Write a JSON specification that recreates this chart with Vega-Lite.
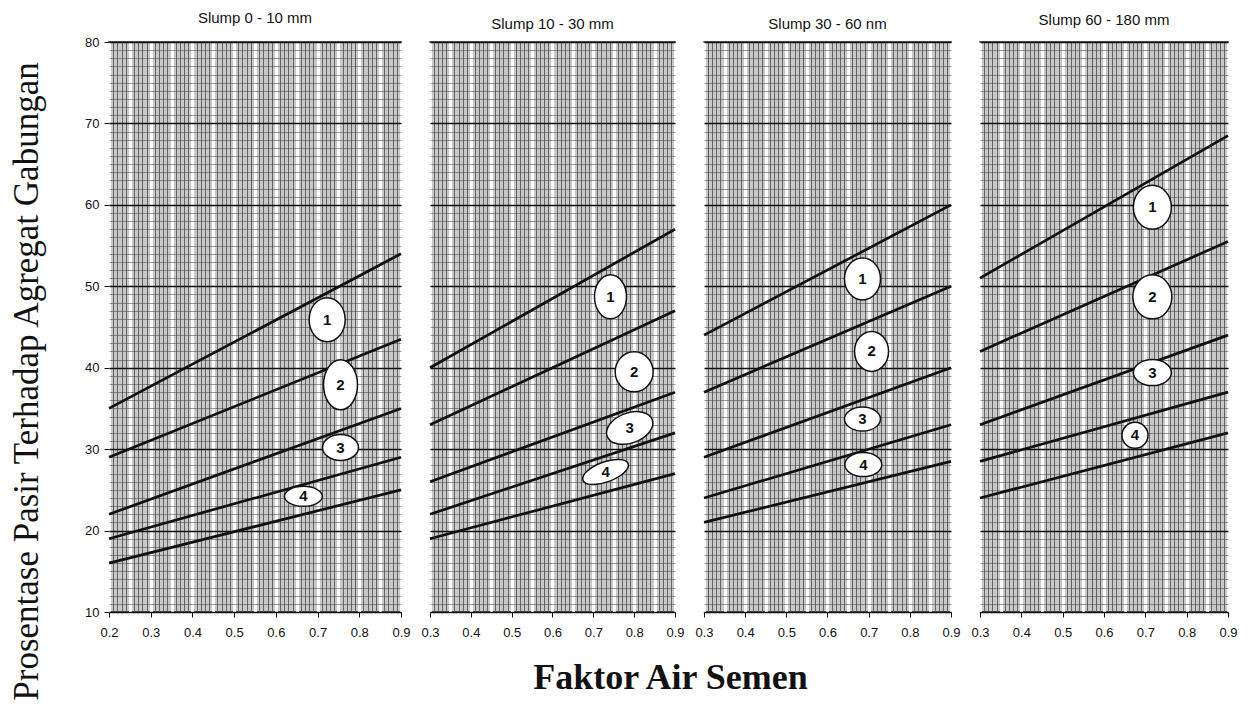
{
  "$schema": "https://vega.github.io/schema/vega-lite/v6.json",
  "background": "white",
  "padding": {"left": 8, "top": 10, "right": 5, "bottom": 2},
  "datasets": {
    "lines": [
      {"panel": 1, "curve": 1, "x": 0.2, "y": 35}, {"panel": 1, "curve": 1, "x": 0.9, "y": 54},
      {"panel": 1, "curve": 2, "x": 0.2, "y": 29}, {"panel": 1, "curve": 2, "x": 0.9, "y": 43.5},
      {"panel": 1, "curve": 3, "x": 0.2, "y": 22}, {"panel": 1, "curve": 3, "x": 0.9, "y": 35},
      {"panel": 1, "curve": 4, "x": 0.2, "y": 19}, {"panel": 1, "curve": 4, "x": 0.9, "y": 29},
      {"panel": 1, "curve": 5, "x": 0.2, "y": 16}, {"panel": 1, "curve": 5, "x": 0.9, "y": 25},
      {"panel": 2, "curve": 1, "x": 0.3, "y": 40}, {"panel": 2, "curve": 1, "x": 0.9, "y": 57},
      {"panel": 2, "curve": 2, "x": 0.3, "y": 33}, {"panel": 2, "curve": 2, "x": 0.9, "y": 47},
      {"panel": 2, "curve": 3, "x": 0.3, "y": 26}, {"panel": 2, "curve": 3, "x": 0.9, "y": 37},
      {"panel": 2, "curve": 4, "x": 0.3, "y": 22}, {"panel": 2, "curve": 4, "x": 0.9, "y": 32},
      {"panel": 2, "curve": 5, "x": 0.3, "y": 19}, {"panel": 2, "curve": 5, "x": 0.9, "y": 27},
      {"panel": 3, "curve": 1, "x": 0.3, "y": 44}, {"panel": 3, "curve": 1, "x": 0.9, "y": 60},
      {"panel": 3, "curve": 2, "x": 0.3, "y": 37}, {"panel": 3, "curve": 2, "x": 0.9, "y": 50},
      {"panel": 3, "curve": 3, "x": 0.3, "y": 29}, {"panel": 3, "curve": 3, "x": 0.9, "y": 40},
      {"panel": 3, "curve": 4, "x": 0.3, "y": 24}, {"panel": 3, "curve": 4, "x": 0.9, "y": 33},
      {"panel": 3, "curve": 5, "x": 0.3, "y": 21}, {"panel": 3, "curve": 5, "x": 0.9, "y": 28.5},
      {"panel": 4, "curve": 1, "x": 0.3, "y": 51}, {"panel": 4, "curve": 1, "x": 0.9, "y": 68.5},
      {"panel": 4, "curve": 2, "x": 0.3, "y": 42}, {"panel": 4, "curve": 2, "x": 0.9, "y": 55.5},
      {"panel": 4, "curve": 3, "x": 0.3, "y": 33}, {"panel": 4, "curve": 3, "x": 0.9, "y": 44},
      {"panel": 4, "curve": 4, "x": 0.3, "y": 28.5}, {"panel": 4, "curve": 4, "x": 0.9, "y": 37},
      {"panel": 4, "curve": 5, "x": 0.3, "y": 24}, {"panel": 4, "curve": 5, "x": 0.9, "y": 32}
    ],
    "labels": [
      {"panel": 1, "label": "1", "x": 0.723, "y": 45.9},
      {"panel": 1, "label": "2", "x": 0.755, "y": 37.9},
      {"panel": 1, "label": "3", "x": 0.755, "y": 30.2},
      {"panel": 1, "label": "4", "x": 0.666, "y": 24.2},
      {"panel": 2, "label": "1", "x": 0.742, "y": 48.7},
      {"panel": 2, "label": "2", "x": 0.8, "y": 39.5},
      {"panel": 2, "label": "3", "x": 0.789, "y": 32.6},
      {"panel": 2, "label": "4", "x": 0.73, "y": 27.2},
      {"panel": 3, "label": "1", "x": 0.685, "y": 50.9},
      {"panel": 3, "label": "2", "x": 0.707, "y": 42.0},
      {"panel": 3, "label": "3", "x": 0.685, "y": 33.7},
      {"panel": 3, "label": "4", "x": 0.687, "y": 28.1},
      {"panel": 4, "label": "1", "x": 0.717, "y": 59.7},
      {"panel": 4, "label": "2", "x": 0.717, "y": 48.7},
      {"panel": 4, "label": "3", "x": 0.717, "y": 39.4},
      {"panel": 4, "label": "4", "x": 0.675, "y": 31.7}
    ]
  },
  "bounds": "flush",
  "spacing": 29,
  "hconcat": [
    {
      "width": 292,
      "height": 570,
      "title": {"text": "Slump 0 - 10 mm", "font": "Liberation Sans", "fontSize": 15, "fontWeight": "normal", "color": "#111111", "offset": 10},
      "encoding": {
        "x": {
          "field": "x", "type": "quantitative", "title": null,
          "scale": {"domain": [0.2, 0.9], "nice": false, "zero": false},
          "axis": {
            "values": [0.2,0.21,0.22,0.23,0.24,0.25,0.26,0.27,0.28,0.29,0.3,0.31,0.32,0.33,0.34,0.35,0.36,0.37,0.38,0.39,0.4,0.41,0.42,0.43,0.44,0.45,0.46,0.47,0.48,0.49,0.5,0.51,0.52,0.53,0.54,0.55,0.56,0.57,0.58,0.59,0.6,0.61,0.62,0.63,0.64,0.65,0.66,0.67,0.68,0.69,0.7,0.71,0.72,0.73,0.74,0.75,0.76,0.77,0.78,0.79,0.8,0.81,0.82,0.83,0.84,0.85,0.86,0.87,0.88,0.89,0.9],
            "grid": true,
            "gridOpacity": 1,
            "gridColor": {"condition": {"test": "abs(datum.value * 20 - round(datum.value * 20)) < 0.001", "value": "#ffffff"}, "value": "#646464"},
            "gridWidth": {"condition": {"test": "abs(datum.value * 20 - round(datum.value * 20)) < 0.001", "value": 3}, "value": 1},
            "domain": false,
            "tickColor": "#111111", "tickSize": 5,
            "tickOpacity": {"condition": {"test": "abs(datum.value * 10 - round(datum.value * 10)) < 0.001", "value": 1}, "value": 0},
            "labelExpr": "abs(datum.value * 10 - round(datum.value * 10)) < 0.001 ? format(datum.value, '.1f') : ''",
            "labelOverlap": false, "labelFlush": false,
            "labelFont": "Liberation Sans", "labelFontSize": 13, "labelColor": "#111111", "labelPadding": 9
          }
        },
        "y": {
          "field": "y", "type": "quantitative",
          "title": "Prosentase Pasir Terhadap Agregat Gabungan",
          "scale": {"domain": [10, 80], "nice": false, "zero": false},
          "axis": {
            "values": [10,11,12,13,14,15,16,17,18,19,20,21,22,23,24,25,26,27,28,29,30,31,32,33,34,35,36,37,38,39,40,41,42,43,44,45,46,47,48,49,50,51,52,53,54,55,56,57,58,59,60,61,62,63,64,65,66,67,68,69,70,71,72,73,74,75,76,77,78,79,80],
            "grid": true,
            "gridOpacity": 1,
            "gridColor": {"condition": {"test": "datum.value % 10 === 0", "value": "#111111"}, "value": "rgba(60,60,60,0.5)"},
            "gridWidth": {"condition": {"test": "datum.value % 10 === 0", "value": 1.6}, "value": 1},
            "domain": false,
            "tickColor": "#111111", "tickSize": 5,
            "tickOpacity": {"condition": {"test": "datum.value % 10 === 0", "value": 1}, "value": 0},
            "labelExpr": "datum.value % 10 === 0 ? datum.label : ''",
            "labelOverlap": false,
            "labelFont": "Liberation Sans", "labelFontSize": 13, "labelColor": "#111111", "labelPadding": 5,
            "titleFont": "Liberation Serif", "titleFontSize": 35, "titleFontWeight": "normal", "titleColor": "#111111",
            "titleX": -72, "titleY": 339, "titleAlign": "center", "titleBaseline": "alphabetic", "titleAngle": 270
          }
        }
      },
      "layer": [
        {
          "data": {"name": "lines"},
          "transform": [{"filter": "datum.panel === 1"}],
          "mark": {"type": "line", "color": "#111111", "strokeWidth": 2.7},
          "encoding": {"detail": {"field": "curve", "type": "nominal"}}
        },
        {
          "data": {"name": "labels"},
          "transform": [{"filter": "datum.panel === 1"}],
          "mark": {"type": "point", "filled": true, "fill": "white", "stroke": "#111111", "strokeWidth": 1.5, "opacity": 1, "fillOpacity": 1, "size": 4},
          "encoding": {
            "shape": {"field": "label", "type": "nominal", "legend": null, "scale": {"domain": ["1", "2", "3", "4"], "range": [
              "M-18,0A18,22 0 1,1 18,0A18,22 0 1,1 -18,0Z",
              "M-17,0A17,25 0 1,1 17,0A17,25 0 1,1 -17,0Z",
              "M-18,0A18,13 0 1,1 18,0A18,13 0 1,1 -18,0Z",
              "M-19,0A19,10 0 1,1 19,0A19,10 0 1,1 -19,0Z"
            ]}}
          }
        },
        {
          "data": {"name": "labels"},
          "transform": [{"filter": "datum.panel === 1"}],
          "mark": {"type": "text", "font": "Liberation Sans", "fontWeight": "bold", "color": "#111111"},
          "encoding": {
            "text": {"field": "label", "type": "nominal"},
            "size": {"field": "label", "type": "ordinal", "legend": null, "scale": {"domain": ["1", "2", "3", "4"], "range": [15, 15, 8, 8]}}
          }
        }
      ]
    },
    {
      "width": 245,
      "height": 570,
      "title": {"text": "Slump 10 - 30 mm", "font": "Liberation Sans", "fontSize": 15, "fontWeight": "normal", "color": "#111111", "offset": 10},
      "encoding": {
        "x": {
          "field": "x", "type": "quantitative",
          "title": "Faktor Air Semen",
          "scale": {"domain": [0.3, 0.9], "nice": false, "zero": false},
          "axis": {
            "values": [0.3,0.31,0.32,0.33,0.34,0.35,0.36,0.37,0.38,0.39,0.4,0.41,0.42,0.43,0.44,0.45,0.46,0.47,0.48,0.49,0.5,0.51,0.52,0.53,0.54,0.55,0.56,0.57,0.58,0.59,0.6,0.61,0.62,0.63,0.64,0.65,0.66,0.67,0.68,0.69,0.7,0.71,0.72,0.73,0.74,0.75,0.76,0.77,0.78,0.79,0.8,0.81,0.82,0.83,0.84,0.85,0.86,0.87,0.88,0.89,0.9],
            "grid": true,
            "gridOpacity": 1,
            "gridColor": {"condition": {"test": "abs(datum.value * 20 - round(datum.value * 20)) < 0.001", "value": "#ffffff"}, "value": "#646464"},
            "gridWidth": {"condition": {"test": "abs(datum.value * 20 - round(datum.value * 20)) < 0.001", "value": 3}, "value": 1},
            "domain": false,
            "tickColor": "#111111", "tickSize": 5,
            "tickOpacity": {"condition": {"test": "abs(datum.value * 10 - round(datum.value * 10)) < 0.001", "value": 1}, "value": 0},
            "labelExpr": "abs(datum.value * 10 - round(datum.value * 10)) < 0.001 ? format(datum.value, '.1f') : ''",
            "labelOverlap": false, "labelFlush": false,
            "labelFont": "Liberation Sans", "labelFontSize": 13, "labelColor": "#111111", "labelPadding": 9,
            "titleFont": "Liberation Serif", "titleFontSize": 36, "titleFontWeight": "bold", "titleColor": "#111111",
            "titleX": 240, "titleY": 76, "titleAlign": "center", "titleBaseline": "alphabetic"
          }
        },
        "y": {
          "field": "y", "type": "quantitative", "title": null,
          "scale": {"domain": [10, 80], "nice": false, "zero": false},
          "axis": {
            "values": [10,11,12,13,14,15,16,17,18,19,20,21,22,23,24,25,26,27,28,29,30,31,32,33,34,35,36,37,38,39,40,41,42,43,44,45,46,47,48,49,50,51,52,53,54,55,56,57,58,59,60,61,62,63,64,65,66,67,68,69,70,71,72,73,74,75,76,77,78,79,80],
            "grid": true,
            "gridOpacity": 1,
            "gridColor": {"condition": {"test": "datum.value % 10 === 0", "value": "#111111"}, "value": "rgba(60,60,60,0.5)"},
            "gridWidth": {"condition": {"test": "datum.value % 10 === 0", "value": 1.6}, "value": 1},
            "domain": false, "ticks": false, "labels": false
          }
        }
      },
      "layer": [
        {
          "data": {"name": "lines"},
          "transform": [{"filter": "datum.panel === 2"}],
          "mark": {"type": "line", "color": "#111111", "strokeWidth": 2.7},
          "encoding": {"detail": {"field": "curve", "type": "nominal"}}
        },
        {
          "data": {"name": "labels"},
          "transform": [{"filter": "datum.panel === 2"}],
          "mark": {"type": "point", "filled": true, "fill": "white", "stroke": "#111111", "strokeWidth": 1.5, "opacity": 1, "fillOpacity": 1, "size": 4},
          "encoding": {
            "shape": {"field": "label", "type": "nominal", "legend": null, "scale": {"domain": ["1", "2", "3", "4"], "range": [
              "M-16,0A16,22 0 1,1 16,0A16,22 0 1,1 -16,0Z",
              "M-19,0A19,20 0 1,1 19,0A19,20 0 1,1 -19,0Z",
              "M-22.6,8.2A24,15 -20 1,1 22.6,-8.2A24,15 -20 1,1 -22.6,8.2Z",
              "M-22.6,8.2A24,10 -20 1,1 22.6,-8.2A24,10 -20 1,1 -22.6,8.2Z"
            ]}}
          }
        },
        {
          "data": {"name": "labels"},
          "transform": [{"filter": "datum.panel === 2"}],
          "mark": {"type": "text", "font": "Liberation Sans", "fontWeight": "bold", "color": "#111111"},
          "encoding": {
            "text": {"field": "label", "type": "nominal"},
            "size": {"field": "label", "type": "ordinal", "legend": null, "scale": {"domain": ["1", "2", "3", "4"], "range": [15, 15, 8, 7]}}
          }
        }
      ]
    },
    {
      "width": 247,
      "height": 570,
      "title": {"text": "Slump 30 - 60 nm", "font": "Liberation Sans", "fontSize": 15, "fontWeight": "normal", "color": "#111111", "offset": 10},
      "encoding": {
        "x": {
          "field": "x", "type": "quantitative", "title": null,
          "scale": {"domain": [0.3, 0.9], "nice": false, "zero": false},
          "axis": {
            "values": [0.3,0.31,0.32,0.33,0.34,0.35,0.36,0.37,0.38,0.39,0.4,0.41,0.42,0.43,0.44,0.45,0.46,0.47,0.48,0.49,0.5,0.51,0.52,0.53,0.54,0.55,0.56,0.57,0.58,0.59,0.6,0.61,0.62,0.63,0.64,0.65,0.66,0.67,0.68,0.69,0.7,0.71,0.72,0.73,0.74,0.75,0.76,0.77,0.78,0.79,0.8,0.81,0.82,0.83,0.84,0.85,0.86,0.87,0.88,0.89,0.9],
            "grid": true,
            "gridOpacity": 1,
            "gridColor": {"condition": {"test": "abs(datum.value * 20 - round(datum.value * 20)) < 0.001", "value": "#ffffff"}, "value": "#646464"},
            "gridWidth": {"condition": {"test": "abs(datum.value * 20 - round(datum.value * 20)) < 0.001", "value": 3}, "value": 1},
            "domain": false,
            "tickColor": "#111111", "tickSize": 5,
            "tickOpacity": {"condition": {"test": "abs(datum.value * 10 - round(datum.value * 10)) < 0.001", "value": 1}, "value": 0},
            "labelExpr": "abs(datum.value * 10 - round(datum.value * 10)) < 0.001 ? format(datum.value, '.1f') : ''",
            "labelOverlap": false, "labelFlush": false,
            "labelFont": "Liberation Sans", "labelFontSize": 13, "labelColor": "#111111", "labelPadding": 9
          }
        },
        "y": {
          "field": "y", "type": "quantitative", "title": null,
          "scale": {"domain": [10, 80], "nice": false, "zero": false},
          "axis": {
            "values": [10,11,12,13,14,15,16,17,18,19,20,21,22,23,24,25,26,27,28,29,30,31,32,33,34,35,36,37,38,39,40,41,42,43,44,45,46,47,48,49,50,51,52,53,54,55,56,57,58,59,60,61,62,63,64,65,66,67,68,69,70,71,72,73,74,75,76,77,78,79,80],
            "grid": true,
            "gridOpacity": 1,
            "gridColor": {"condition": {"test": "datum.value % 10 === 0", "value": "#111111"}, "value": "rgba(60,60,60,0.5)"},
            "gridWidth": {"condition": {"test": "datum.value % 10 === 0", "value": 1.6}, "value": 1},
            "domain": false, "ticks": false, "labels": false
          }
        }
      },
      "layer": [
        {
          "data": {"name": "lines"},
          "transform": [{"filter": "datum.panel === 3"}],
          "mark": {"type": "line", "color": "#111111", "strokeWidth": 2.7},
          "encoding": {"detail": {"field": "curve", "type": "nominal"}}
        },
        {
          "data": {"name": "labels"},
          "transform": [{"filter": "datum.panel === 3"}],
          "mark": {"type": "point", "filled": true, "fill": "white", "stroke": "#111111", "strokeWidth": 1.5, "opacity": 1, "fillOpacity": 1, "size": 4},
          "encoding": {
            "shape": {"field": "label", "type": "nominal", "legend": null, "scale": {"domain": ["1", "2", "3", "4"], "range": [
              "M-18,0A18,21 0 1,1 18,0A18,21 0 1,1 -18,0Z",
              "M-17,0A17,20 0 1,1 17,0A17,20 0 1,1 -17,0Z",
              "M-18,0A18,12 0 1,1 18,0A18,12 0 1,1 -18,0Z",
              "M-18.5,0A18.5,12 0 1,1 18.5,0A18.5,12 0 1,1 -18.5,0Z"
            ]}}
          }
        },
        {
          "data": {"name": "labels"},
          "transform": [{"filter": "datum.panel === 3"}],
          "mark": {"type": "text", "font": "Liberation Sans", "fontWeight": "bold", "color": "#111111"},
          "encoding": {
            "text": {"field": "label", "type": "nominal"},
            "size": {"field": "label", "type": "ordinal", "legend": null, "scale": {"domain": ["1", "2", "3", "4"], "range": [15, 15, 9, 9]}}
          }
        }
      ]
    },
    {
      "width": 248,
      "height": 570,
      "title": {"text": "Slump 60 - 180 mm", "font": "Liberation Sans", "fontSize": 15, "fontWeight": "normal", "color": "#111111", "offset": 14},
      "encoding": {
        "x": {
          "field": "x", "type": "quantitative", "title": null,
          "scale": {"domain": [0.3, 0.9], "nice": false, "zero": false},
          "axis": {
            "values": [0.3,0.31,0.32,0.33,0.34,0.35,0.36,0.37,0.38,0.39,0.4,0.41,0.42,0.43,0.44,0.45,0.46,0.47,0.48,0.49,0.5,0.51,0.52,0.53,0.54,0.55,0.56,0.57,0.58,0.59,0.6,0.61,0.62,0.63,0.64,0.65,0.66,0.67,0.68,0.69,0.7,0.71,0.72,0.73,0.74,0.75,0.76,0.77,0.78,0.79,0.8,0.81,0.82,0.83,0.84,0.85,0.86,0.87,0.88,0.89,0.9],
            "grid": true,
            "gridOpacity": 1,
            "gridColor": {"condition": {"test": "abs(datum.value * 20 - round(datum.value * 20)) < 0.001", "value": "#ffffff"}, "value": "#646464"},
            "gridWidth": {"condition": {"test": "abs(datum.value * 20 - round(datum.value * 20)) < 0.001", "value": 3}, "value": 1},
            "domain": false,
            "tickColor": "#111111", "tickSize": 5,
            "tickOpacity": {"condition": {"test": "abs(datum.value * 10 - round(datum.value * 10)) < 0.001", "value": 1}, "value": 0},
            "labelExpr": "abs(datum.value * 10 - round(datum.value * 10)) < 0.001 ? format(datum.value, '.1f') : ''",
            "labelOverlap": false, "labelFlush": false,
            "labelFont": "Liberation Sans", "labelFontSize": 13, "labelColor": "#111111", "labelPadding": 9
          }
        },
        "y": {
          "field": "y", "type": "quantitative", "title": null,
          "scale": {"domain": [10, 80], "nice": false, "zero": false},
          "axis": {
            "values": [10,11,12,13,14,15,16,17,18,19,20,21,22,23,24,25,26,27,28,29,30,31,32,33,34,35,36,37,38,39,40,41,42,43,44,45,46,47,48,49,50,51,52,53,54,55,56,57,58,59,60,61,62,63,64,65,66,67,68,69,70,71,72,73,74,75,76,77,78,79,80],
            "grid": true,
            "gridOpacity": 1,
            "gridColor": {"condition": {"test": "datum.value % 10 === 0", "value": "#111111"}, "value": "rgba(60,60,60,0.5)"},
            "gridWidth": {"condition": {"test": "datum.value % 10 === 0", "value": 1.6}, "value": 1},
            "domain": false, "ticks": false, "labels": false
          }
        }
      },
      "layer": [
        {
          "data": {"name": "lines"},
          "transform": [{"filter": "datum.panel === 4"}],
          "mark": {"type": "line", "color": "#111111", "strokeWidth": 2.7},
          "encoding": {"detail": {"field": "curve", "type": "nominal"}}
        },
        {
          "data": {"name": "labels"},
          "transform": [{"filter": "datum.panel === 4"}],
          "mark": {"type": "point", "filled": true, "fill": "white", "stroke": "#111111", "strokeWidth": 1.5, "opacity": 1, "fillOpacity": 1, "size": 4},
          "encoding": {
            "shape": {"field": "label", "type": "nominal", "legend": null, "scale": {"domain": ["1", "2", "3", "4"], "range": [
              "M-19,0A19,22 0 1,1 19,0A19,22 0 1,1 -19,0Z",
              "M-19.5,0A19.5,22 0 1,1 19.5,0A19.5,22 0 1,1 -19.5,0Z",
              "M-19,0A19,13 0 1,1 19,0A19,13 0 1,1 -19,0Z",
              "M-13,0A13,13 0 1,1 13,0A13,13 0 1,1 -13,0Z"
            ]}}
          }
        },
        {
          "data": {"name": "labels"},
          "transform": [{"filter": "datum.panel === 4"}],
          "mark": {"type": "text", "font": "Liberation Sans", "fontWeight": "bold", "color": "#111111"},
          "encoding": {
            "text": {"field": "label", "type": "nominal"},
            "size": {"field": "label", "type": "ordinal", "legend": null, "scale": {"domain": ["1", "2", "3", "4"], "range": [15, 15, 9, 15]}}
          }
        }
      ]
    }
  ],
  "resolve": {"scale": {"shape": "independent", "size": "independent"}},
  "config": {
    "view": {"stroke": "#222222", "strokeWidth": 1.5, "fill": "#c8c8c8"}
  }
}
